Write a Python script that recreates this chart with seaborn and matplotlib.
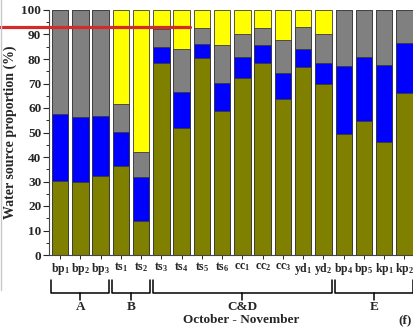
import matplotlib
matplotlib.use("Agg")
import matplotlib.pyplot as plt
from matplotlib.lines import Line2D
import matplotlib.transforms as mtransforms
import seaborn as sns
import pandas as pd
import numpy as np

sns.set_style("ticks")
plt.rcParams["font.family"] = ["Liberation Serif", "DejaVu Serif"]
plt.rcParams["font.weight"] = "bold"
plt.rcParams["mathtext.fontset"] = "custom"
plt.rcParams["mathtext.rm"] = "Liberation Serif:bold"
plt.rcParams["mathtext.bf"] = "Liberation Serif:bold"
plt.rcParams["mathtext.it"] = "Liberation Serif:bold"
plt.rcParams["mathtext.default"] = "bf"

# Sampling sites and their subscripted labels
sites = ["bp1", "bp2", "bp3", "ts1", "ts2", "ts3", "ts4", "ts5", "ts6",
         "cc1", "cc2", "cc3", "yd1", "yd2", "bp4", "bp5", "kp1", "kp2"]
site_labels = ["bp$_1$", "bp$_2$", "bp$_3$", "ts$_1$", "ts$_2$", "ts$_3$",
               "ts$_4$", "ts$_5$", "ts$_6$", "cc$_1$", "cc$_2$", "cc$_3$",
               "yd$_1$", "yd$_2$", "bp$_4$", "bp$_5$", "kp$_1$", "kp$_2$"]

# Water source proportions (%), stacked bottom to top
olive_part = [30.2, 29.7, 32.2, 36.5, 13.9, 78.5, 51.7, 80.3, 58.8,
              72.1, 78.5, 63.5, 76.9, 69.8, 49.3, 54.6, 46.0, 66.0]
blue_part = [27.2, 26.5, 24.7, 13.7, 17.8, 6.5, 14.8, 6.0, 11.4,
             8.8, 7.1, 10.6, 7.1, 8.7, 27.8, 26.1, 31.4, 20.4]
gray_part = [42.6, 43.8, 43.1, 11.3, 10.5, 7.1, 17.5, 6.5, 15.5,
             9.3, 7.2, 13.8, 9.2, 11.7, 22.9, 19.3, 22.6, 13.6]
yellow_part = [0.0, 0.0, 0.0, 38.5, 57.8, 7.9, 16.0, 7.2, 14.3,
               9.8, 7.2, 12.1, 6.8, 9.8, 0.0, 0.0, 0.0, 0.0]

groups = ["A", "B", "C&D", "E"]
group_first = [0, 3, 5, 14]
group_last = [2, 4, 13, 17]

df = pd.DataFrame({"site": sites, "olive": olive_part, "blue": blue_part,
                   "gray": gray_part, "yellow": yellow_part})
df["c1"] = df["olive"]
df["c2"] = df["c1"] + df["blue"]
df["c3"] = df["c2"] + df["gray"]
df["c4"] = df["c3"] + df["yellow"]

W, H = 414, 333
fig = plt.figure(figsize=(W / 100, H / 100), dpi=100)
ax = fig.add_axes([49 / W, 78 / H, 365 / W, 245 / H])

# Cumulative totals drawn from the tallest down give the stacked look
layers = [("c4", "#FFFF00"), ("c3", "#808080"), ("c2", "#0000FF"), ("c1", "#808000")]
for col, color in layers:
    sns.barplot(data=df, x="site", y=col, order=sites, color=color,
                saturation=1, width=0.81, edgecolor="#3a3a3a", linewidth=0.6,
                errorbar=None, ax=ax)

ax.set_xlim(-0.55, 17.47)
ax.set_ylim(0, 100)
ax.set_yticks(np.arange(0, 101, 10))
ax.set_yticks(np.arange(5, 100, 10), minor=True)
ax.set_xticks(range(len(sites)))
ax.set_xticklabels(site_labels, fontsize=8.5, fontweight="bold")
ax.tick_params(axis="y", which="major", labelsize=9.5, length=4, width=0.8, pad=1.5)
ax.tick_params(axis="y", which="minor", length=2, width=0.7)
ax.tick_params(axis="x", length=3, width=0.7, pad=1)
for lbl in ax.get_yticklabels():
    lbl.set_fontweight("bold")
ax.set_xlabel("")
ax.set_ylabel("Water source proportion (%)", fontsize=10, fontweight="bold", labelpad=3)
for side in ["top", "right"]:
    ax.spines[side].set_visible(False)
ax.spines["left"].set_color("#444444")
ax.spines["bottom"].set_color("#444444")

# Group brackets below the site labels
trans = mtransforms.blended_transform_factory(ax.transData, fig.transFigure)
def fy(py):
    return 1 - py / H
for name, a, b in zip(groups, group_first, group_last):
    x0, x1 = a - 0.43, b + 0.43
    xm = (a + b) / 2
    ax.add_line(Line2D([x0, x0, x1, x1], [fy(280), fy(293), fy(293), fy(280)],
                       transform=trans, color="black", lw=1.1, clip_on=False))
    ax.add_line(Line2D([xm, xm], [fy(293), fy(300)], transform=trans,
                       color="black", lw=1.1, clip_on=False))
    fig.text(xm, fy(307.5), name, transform=trans, fontsize=9.5, fontweight="bold",
             ha="center", va="center")

fig.text(241 / W, fy(320), "October - November", fontsize=9.5, fontweight="bold",
         ha="center", va="center")
fig.text(398 / W, fy(320), "(f)", fontsize=9.5, fontweight="bold",
         ha="left", va="center")

# Horizontal marker line across the upper left
fig.add_artist(Line2D([0, 190 / W], [fy(27), fy(27)], color="#d42a2a", lw=2.3))
fig.add_artist(Line2D([1 / W, 1 / W], [fy(0), fy(290)], color="#c8c8c8", lw=1.0))

fig.savefig("out.png", dpi=100)
